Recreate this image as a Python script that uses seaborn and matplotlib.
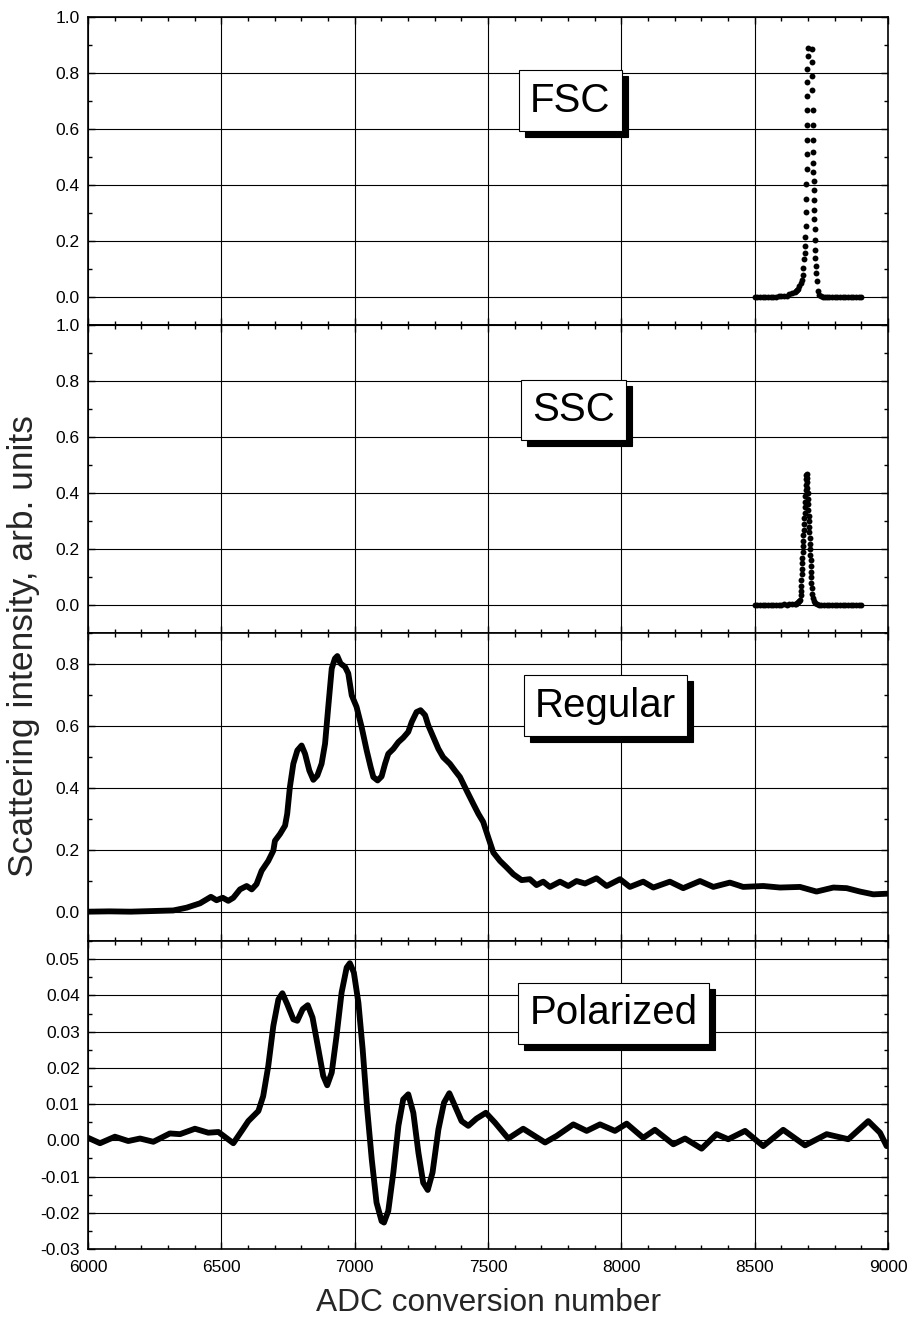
import matplotlib
matplotlib.use("Agg")
import matplotlib.pyplot as plt
import matplotlib.transforms as mtransforms
from matplotlib.ticker import MultipleLocator, FormatStrFormatter
import seaborn as sns

# FSC histogram (dots)
fsc_x = [8500, 8510, 8520, 8530, 8540, 8550, 8560, 8570, 8580, 8590, 8600, 8610, 8620, 8630, 8640, 8650,
         8655, 8660, 8664, 8668, 8672, 8676, 8680, 8683, 8686, 8688, 8689, 8690, 8691, 8692, 8693, 8694,
         8694.5, 8695, 8695.5, 8696, 8696.5, 8697, 8697.5, 8698, 8699, 8701, 8714, 8715, 8716, 8716.5,
         8717, 8717.5, 8718, 8719, 8719.5, 8720, 8721, 8721.5, 8722, 8723, 8724, 8725, 8726, 8727, 8728,
         8729, 8731, 8733, 8737, 8742, 8748, 8755, 8762, 8770, 8780, 8790, 8800, 8810, 8820, 8830, 8840,
         8850, 8860, 8870, 8880, 8890, 8900]
fsc_y = [0.002, 0.001, 0.001, 0.000, 0.001, 0.002, 0.001, 0.001, 0.002, 0.003, 0.003, 0.004, 0.006, 0.010, 0.014, 0.019,
         0.022, 0.025, 0.030, 0.040, 0.050, 0.062, 0.080, 0.105, 0.135, 0.158, 0.182, 0.214, 0.256, 0.303, 0.352, 0.405,
         0.458, 0.512, 0.563, 0.614, 0.670, 0.720, 0.770, 0.815, 0.860, 0.890, 0.885, 0.840, 0.790, 0.740,
         0.670, 0.614, 0.563, 0.519, 0.479, 0.446, 0.414, 0.382, 0.348, 0.313, 0.279, 0.243, 0.206, 0.170, 0.140,
         0.111, 0.087, 0.057, 0.021, 0.008, 0.003, 0.002, 0.001, 0.001, 0.001, 0.000, 0.001, 0.001, 0.000, 0.001, 0.001,
         0.000, 0.001, 0.001, 0.000, 0.001, 0.001]

# SSC histogram (dots)
ssc_x = [8500, 8510, 8520, 8530, 8540, 8550, 8560, 8570, 8580, 8590, 8600, 8610, 8620, 8630, 8640, 8650,
         8655, 8660, 8664, 8667, 8670, 8672, 8673, 8674, 8675, 8676, 8677, 8678, 8679, 8680, 8681, 8682,
         8683, 8684, 8685, 8686, 8687, 8688, 8689, 8690, 8691, 8692, 8693, 8694, 8696, 8697, 8697.5, 8698,
         8698.5, 8699, 8700, 8701, 8702, 8703, 8704, 8705, 8706, 8707, 8708, 8709, 8710, 8711, 8712, 8712.5,
         8713, 8714, 8716, 8719, 8723, 8728, 8734, 8740, 8750, 8760, 8770, 8780, 8790, 8800, 8810, 8820,
         8830, 8840, 8850, 8860, 8870, 8880, 8890, 8900]
ssc_y = [0.001, 0.000, 0.001, 0.001, 0.000, 0.001, 0.001, 0.002, 0.001, 0.002, 0.002, 0.003, 0.002, 0.003, 0.003, 0.004,
         0.004, 0.006, 0.010, 0.015, 0.020, 0.035, 0.050, 0.070, 0.090, 0.110, 0.130, 0.150, 0.170, 0.190, 0.210, 0.230,
         0.250, 0.270, 0.290, 0.310, 0.330, 0.350, 0.370, 0.390, 0.410, 0.430, 0.450, 0.465, 0.470, 0.455, 0.440, 0.420,
         0.400, 0.380, 0.360, 0.340, 0.320, 0.300, 0.280, 0.260, 0.240, 0.220, 0.200, 0.180, 0.160, 0.140, 0.120, 0.100,
         0.080, 0.060, 0.040, 0.025, 0.015, 0.008, 0.004, 0.002, 0.001, 0.001, 0.000, 0.001, 0.001, 0.000, 0.001, 0.001,
         0.000, 0.001, 0.001, 0.000, 0.001, 0.001, 0.000, 0.001]

# Regular scattering trace
reg_x = [6000, 6080, 6160, 6240, 6320, 6370, 6420, 6461, 6482, 6505, 6526, 6545, 6570, 6595, 6614, 6632,
         6651, 6676, 6695, 6701, 6720, 6739, 6747, 6757, 6770, 6785, 6801, 6814, 6830, 6845, 6860, 6876,
         6889, 6901, 6914, 6926, 6935, 6947, 6964, 6976, 6989, 7007, 7026, 7045, 7060, 7070, 7086, 7101,
         7114, 7126, 7145, 7164, 7182, 7201, 7214, 7232, 7247, 7264, 7276, 7295, 7314, 7332, 7357, 7376,
         7395, 7420, 7445, 7464, 7482, 7501, 7520, 7545, 7570, 7595, 7626, 7657, 7682, 7707, 7732, 7770,
         7801, 7832, 7864, 7907, 7945, 7995, 8032, 8082, 8120, 8182, 8232, 8295, 8345, 8407, 8457, 8532,
         8595, 8670, 8732, 8795, 8845, 8895, 8945, 8995]
reg_y = [0.000, 0.001, 0.000, 0.002, 0.004, 0.013, 0.027, 0.048, 0.037, 0.045, 0.035, 0.045, 0.072, 0.083, 0.072, 0.089,
         0.132, 0.164, 0.197, 0.229, 0.251, 0.278, 0.316, 0.402, 0.478, 0.521, 0.537, 0.510, 0.456, 0.426, 0.440, 0.478,
         0.543, 0.662, 0.786, 0.818, 0.826, 0.802, 0.791, 0.770, 0.699, 0.662, 0.597, 0.521, 0.467, 0.435, 0.424, 0.437,
         0.478, 0.510, 0.526, 0.548, 0.562, 0.581, 0.613, 0.645, 0.651, 0.635, 0.602, 0.564, 0.526, 0.499, 0.478, 0.456,
         0.435, 0.391, 0.348, 0.316, 0.290, 0.240, 0.191, 0.164, 0.143, 0.121, 0.102, 0.105, 0.086, 0.097, 0.080, 0.097,
         0.083, 0.099, 0.091, 0.108, 0.083, 0.105, 0.080, 0.097, 0.078, 0.097, 0.076, 0.099, 0.080, 0.094, 0.080, 0.083,
         0.078, 0.080, 0.065, 0.078, 0.076, 0.065, 0.056, 0.058]

# Polarized scattering trace
pol_x = [6000, 6045, 6101, 6151, 6195, 6245, 6307, 6345, 6401, 6451, 6489, 6545, 6582, 6601, 6639, 6657,
         6676, 6695, 6714, 6729, 6747, 6770, 6785, 6805, 6824, 6842, 6864, 6882, 6897, 6914, 6932, 6951,
         6970, 6982, 6997, 7014, 7030, 7047, 7064, 7082, 7101, 7110, 7126, 7145, 7164, 7182, 7201, 7220,
         7239, 7257, 7274, 7292, 7314, 7335, 7355, 7376, 7401, 7426, 7457, 7492, 7526, 7576, 7632, 7714,
         7757, 7820, 7870, 7920, 7976, 8020, 8082, 8126, 8195, 8239, 8301, 8357, 8401, 8464, 8532, 8607,
         8689, 8770, 8851, 8926, 8970, 8995]
pol_y = [0.0007, -0.0008, 0.0010, -0.0002, 0.0005, -0.0004, 0.0019, 0.0017, 0.0032, 0.0021, 0.0023, -0.0008, 0.0032, 0.0053, 0.0081, 0.0122,
         0.0205, 0.0316, 0.0389, 0.0406, 0.0376, 0.0334, 0.0330, 0.0362, 0.0373, 0.0339, 0.0251, 0.0178, 0.0152, 0.0187, 0.0288, 0.0408,
         0.0477, 0.0489, 0.0463, 0.0380, 0.0251, 0.0086, -0.0052, -0.0172, -0.0223, -0.0227, -0.0195, -0.0089, 0.0040, 0.0113, 0.0127, 0.0076,
         -0.0034, -0.0117, -0.0137, -0.0089, 0.0030, 0.0104, 0.0130, 0.0095, 0.0053, 0.0040, 0.0060, 0.0076, 0.0049, 0.0005, 0.0032, -0.0006,
         0.0012, 0.0044, 0.0026, 0.0044, 0.0026, 0.0046, 0.0007, 0.0029, -0.0011, 0.0005, -0.0023, 0.0017, 0.0003, 0.0026, -0.0016, 0.0029,
         -0.0014, 0.0017, 0.0003, 0.0053, 0.0021, -0.0016]

panel_names = ["FSC", "SSC", "Regular", "Polarized"]
label_pos = [(0.603, 0.729), (0.607, 0.725), (0.647, 0.765), (0.657, 0.765)]

sns.set_theme(style="ticks")
plt.rcParams.update({
    "font.family": ["Liberation Sans", "DejaVu Sans"],
    "xtick.direction": "in",
    "ytick.direction": "in",
    "xtick.top": True,
    "ytick.right": True,
    "xtick.major.size": 5,
    "xtick.minor.size": 2.8,
    "ytick.major.size": 5,
    "ytick.minor.size": 2.8,
    "xtick.major.width": 1,
    "ytick.major.width": 1,
    "xtick.minor.width": 1,
    "ytick.minor.width": 1,
    "xtick.color": "black",
    "ytick.color": "black",
    "axes.edgecolor": "black",
    "axes.linewidth": 1.2,
})

fig, axes = plt.subplots(4, 1, sharex=True, figsize=(9.14, 13.2), dpi=100)
fig.subplots_adjust(left=88 / 914, right=888 / 914, top=1 - 17.3 / 1320, bottom=1 - 1249 / 1320, hspace=0)
ax_fsc, ax_ssc, ax_reg, ax_pol = axes

sns.scatterplot(x=fsc_x, y=fsc_y, ax=ax_fsc, color="black", s=18, linewidth=0, zorder=3)
sns.scatterplot(x=ssc_x, y=ssc_y, ax=ax_ssc, color="black", s=18, linewidth=0, zorder=3)
sns.lineplot(x=reg_x, y=reg_y, ax=ax_reg, color="black", lw=4.2, zorder=3,
             solid_joinstyle="round", solid_capstyle="round")
sns.lineplot(x=pol_x, y=pol_y, ax=ax_pol, color="black", lw=4.2, zorder=3,
             solid_joinstyle="round", solid_capstyle="round")

ax_fsc.set_ylim(-0.1, 1.0)
ax_ssc.set_ylim(-0.1, 1.0)
ax_reg.set_ylim(-0.095, 0.9)
ax_pol.set_ylim(-0.03, 0.055)

for ax in (ax_fsc, ax_ssc):
    ax.set_yticks([0.0, 0.2, 0.4, 0.6, 0.8, 1.0])
    ax.yaxis.set_minor_locator(MultipleLocator(0.1))
    ax.yaxis.set_major_formatter(FormatStrFormatter("%.1f"))
ax_reg.set_yticks([0.0, 0.2, 0.4, 0.6, 0.8])
ax_reg.yaxis.set_minor_locator(MultipleLocator(0.1))
ax_reg.yaxis.set_major_formatter(FormatStrFormatter("%.1f"))
ax_pol.set_yticks([-0.03, -0.02, -0.01, 0.0, 0.01, 0.02, 0.03, 0.04, 0.05])
ax_pol.yaxis.set_minor_locator(MultipleLocator(0.005))
ax_pol.yaxis.set_major_formatter(FormatStrFormatter("%.2f"))

ax_pol.set_xlim(6000, 9000)
ax_pol.set_xticks([6000, 6500, 7000, 7500, 8000, 8500, 9000])
ax_pol.xaxis.set_minor_locator(MultipleLocator(100))

for ax, name, (lx, ly) in zip(axes, panel_names, label_pos):
    ax.grid(True, which="major", color="black", lw=0.8)
    ax.set_axisbelow(True)
    ax.tick_params(which="both", labelsize=12.5, pad=6)
    ax.set_ylabel("")
    # drop shadow box, then the white label box on top
    shadow = mtransforms.offset_copy(ax.transAxes, fig=fig, x=6, y=-6, units="dots")
    ax.text(lx, ly, name, transform=shadow, ha="center", va="center", fontsize=29, color="black",
            bbox=dict(boxstyle="square,pad=0.28", fc="black", ec="black", lw=0.8), zorder=5)
    ax.text(lx, ly, name, transform=ax.transAxes, ha="center", va="center", fontsize=29, color="black",
            bbox=dict(boxstyle="square,pad=0.28", fc="white", ec="black", lw=0.8), zorder=6)

ax_pol.tick_params(axis="x", pad=8)
ax_pol.set_xlabel("")
fig.text(488 / 914, 9 / 1320, "ADC conversion number", ha="center", va="baseline", fontsize=22.8)
fig.text(24 / 914, 1 - 646 / 1320, "Scattering intensity, arb. units", rotation=90,
         ha="center", va="center", fontsize=25.5)

fig.savefig("out.png", dpi=100)
